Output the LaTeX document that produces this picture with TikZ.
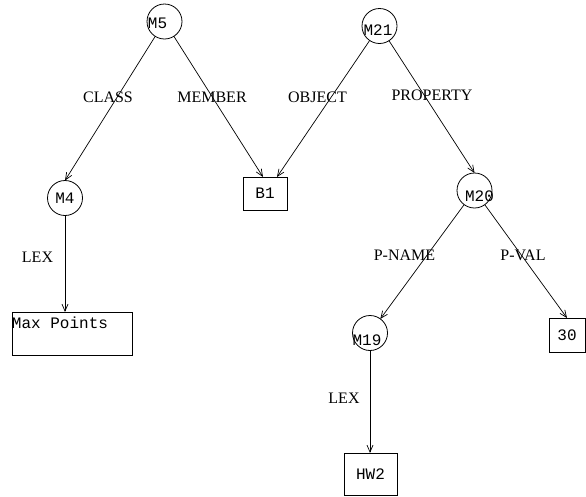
\documentclass[tikz,border=0pt]{standalone}
\usepackage{fontspec}
\setmainfont{Liberation Serif}
\setmonofont{Liberation Mono}
\usetikzlibrary{arrows.meta}

\begin{document}
\begin{tikzpicture}[x=1pt, y=1pt,
  every node/.style={inner sep=0pt, outer sep=0pt},
  mono/.style={font=\fontsize{16}{18}\selectfont\ttfamily},
  arclabel/.style={font=\fontsize{16}{18}\selectfont},
  molnode/.style={draw, circle, line width=0.8pt, minimum size=35pt},
  basenode/.style={draw, rectangle, line width=0.8pt, mono},
  edge/.style={line width=0.7pt, -{Straight Barb[length=7pt,width=6pt]}}
]
\useasboundingbox (0,0) rectangle (586,-496);

% molecular nodes (circles)
\node[molnode, label={[mono, xshift=-7pt, yshift=-1.5pt]center:M5}]  (M5)  at (164.5,-21.5) {};
\node[molnode, label={[mono, xshift=-1.5pt, yshift=-4pt]center:M21}] (M21) at (379.5,-26) {};
\node[molnode, label={[mono]center:M4}]                               (M4)  at (65,-198) {};
\node[molnode, label={[mono, xshift=5pt, yshift=-6pt]center:M20}]    (M20) at (474.5,-190.5) {};
\node[molnode, label={[mono, xshift=-3pt, yshift=-7pt]center:M19}]   (M19) at (370,-333) {};

% base nodes (boxes)
\node[basenode, minimum width=44pt, minimum height=33pt] (B1)  at (265,-193.5) {B1};
\node[basenode, minimum width=36pt, minimum height=34pt] (V30) at (567,-335) {30};
\node[basenode, minimum width=53pt, minimum height=42pt] (HW2) at (370.5,-474) {HW2};
\node[basenode, minimum width=120pt, minimum height=43pt] (Max) at (72,-333.5) {};
\node[mono, anchor=west] (Maxtext) at (12,-323) {Max Points};

% arcs
\draw[edge] (M5)  -- (M4.north);
\draw[edge] (M5)  -- ([xshift=-2pt]B1.north);
\draw[edge] (M21) -- ([xshift=12pt]B1.north);
\draw[edge] (M21) -- (M20.north);
\draw[edge] (M4)  -- (M4 |- Max.north);
\draw[edge] (M20) -- (M19);
\draw[edge] (M20) -- (V30.north);
\draw[edge] (M19) -- (M19 |- HW2.north);

% arc labels
\node[arclabel] (lclass)  at (108,-97)   {CLASS};
\node[arclabel] (lmember) at (212,-97)   {MEMBER};
\node[arclabel] (lobject) at (317.5,-97) {OBJECT};
\node[arclabel] (lprop)   at (432,-95)   {PROPERTY};
\node[arclabel] (llex1)   at (37.5,-257) {LEX};
\node[arclabel] (lpname)  at (404.5,-255) {P-NAME};
\node[arclabel] (lpval)   at (523,-255)  {P-VAL};
\node[arclabel] (llex2)   at (344,-398)  {LEX};
\end{tikzpicture}
\end{document}
